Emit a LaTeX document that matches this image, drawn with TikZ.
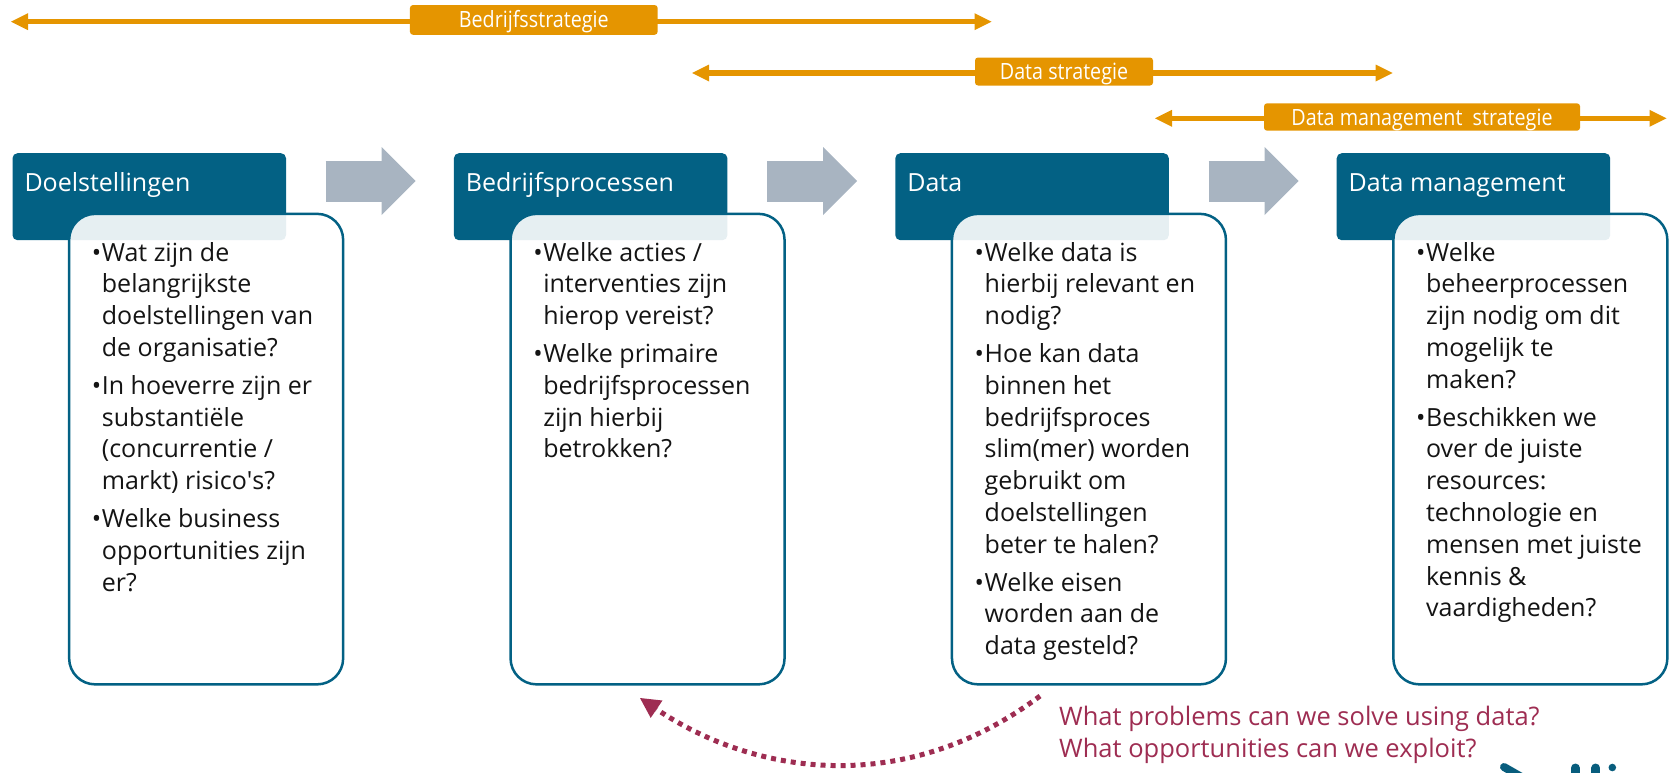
\documentclass[tikz,border=0pt]{standalone}
\usepackage{fontspec}
\setmainfont{Open Sans}
\newfontfamily\lblfont[FakeStretch=0.88]{Open Sans}
\usetikzlibrary{arrows.meta}
\definecolor{hdteal}{RGB}{3,97,132}
\definecolor{greyarr}{RGB}{168,180,193}
\definecolor{orng}{RGB}{229,149,0}
\definecolor{mrn}{RGB}{158,45,82}
\definecolor{bodyblack}{RGB}{20,20,20}
\definecolor{logoteal}{RGB}{8,93,125}
\newcommand{\bul}{\makebox[10pt][l]{\textbullet}}
\newcommand{\ind}{\hspace*{10pt}}
\newcommand{\sq}{{\addfontfeatures{Ligatures=TeXOff}'}}
\begin{document}
\begin{tikzpicture}[x=1pt,y=-1pt,
  header/.style={fill=hdteal,rounded corners=5pt,minimum width=273.5pt,minimum height=87pt,inner sep=0pt,anchor=north west},
  bodybox/.style={draw=hdteal,line width=2.5pt,fill=white,fill opacity=0.9,rounded corners=26pt,minimum width=274pt,minimum height=470.5pt,inner sep=0pt,anchor=north west},
  htext/.style={text=white,font=\fontsize{25}{30}\selectfont,anchor=base west,inner sep=0pt},
  btext/.style={text=bodyblack,font=\fontsize{25}{31.8}\selectfont,anchor=base west,inner sep=0pt},
  flow/.style={greyarr,line width=41pt,-{Triangle[length=34pt,width=68pt,line width=0pt]}},
  span/.style={orng,line width=5.5pt,{Triangle[length=17pt,width=17pt,line width=0pt]}-{Triangle[length=17pt,width=17pt,line width=0pt]}},
  spanlabel/.style={fill=orng,rounded corners=3pt,text=white,font=\lblfont\fontsize{22.4}{26}\selectfont,inner sep=0pt,text height=16pt,text depth=0pt},
  loopback/.style={mrn,line width=5pt,dash pattern=on 5pt off 5pt,-{Triangle[length=20pt,width=21pt,line width=0pt]}},
  note/.style={text=mrn,font=\fontsize{25.5}{31.7}\selectfont,anchor=base west,inner sep=0pt}
]
\useasboundingbox (0,0) rectangle (1677,772);

% ---- top spans ----
\coordinate (s1a) at (11,21.7);   \coordinate (s1b) at (991.5,21.7);
\coordinate (s2a) at (692,73);    \coordinate (s2b) at (1392.5,73);
\coordinate (s3a) at (1155,118.3); \coordinate (s3b) at (1666.5,118.3);
\draw[span] (s1a) -- (s1b);
\draw[span] (s2a) -- (s2b);
\draw[span] (s3a) -- (s3b);
\node[spanlabel,minimum width=247.7pt,minimum height=29.7pt] (lb1) at (533.8,19.9) {Bedrijfsstrategie};
\node[spanlabel,minimum width=178pt,minimum height=28pt] (lb2) at (1064,71.5) {Data strategie};
\node[spanlabel,minimum width=316pt,minimum height=27.4pt] (lb3) at (1422,117) {Data management~ strategie};

% ---- headers ----
\node[header] (h1) at (12.3,153) {};
\node[header] (h2) at (453.7,153) {};
\node[header] (h3) at (895.1,153) {};
\node[header] (h4) at (1336.5,153) {};
\node[htext] (h1t) at (24.3,191.8) {Doelstellingen};
\node[htext] (h2t) at (465.7,191.8) {Bedrijfsprocessen};
\node[htext] (h3t) at (907.1,191.8) {Data};
\node[htext] (h4t) at (1348.5,191.8) {Data management};

% ---- grey flow arrows ----
\coordinate (f1a) at (325.7,181); \coordinate (f1b) at (415.7,181);
\coordinate (f2a) at (767.1,181); \coordinate (f2b) at (857.1,181);
\coordinate (f3a) at (1208.5,181); \coordinate (f3b) at (1298.5,181);
\draw[flow] (f1a) -- (f1b);
\draw[flow] (f2a) -- (f2b);
\draw[flow] (f3a) -- (f3b);

% ---- body boxes ----
\node[bodybox] (b1) at (67.9,212.6) {};
\node[bodybox] (b2) at (509.3,212.6) {};
\node[bodybox] (b3) at (950.7,212.6) {};
\node[bodybox] (b4) at (1392.1,212.6) {};

\node[btext] (t1) at (91.7,261) {\begin{tabular}[t]{@{}l@{}}
\bul Wat zijn de\\ \ind belangrijkste\\ \ind doelstellingen van\\ \ind de organisatie?\\[6pt]
\bul In hoeverre zijn er\\ \ind substantiële\\ \ind (concurrentie /\\ \ind markt) risico\sq s?\\[6pt]
\bul Welke business\\ \ind opportunities zijn\\ \ind er?
\end{tabular}};
\node[btext] (t2) at (533.1,261) {\begin{tabular}[t]{@{}l@{}}
\bul Welke acties /\\ \ind interventies zijn\\ \ind hierop vereist?\\[6pt]
\bul Welke primaire\\ \ind bedrijfsprocessen\\ \ind zijn hierbij\\ \ind betrokken?
\end{tabular}};
\node[btext] (t3) at (974.5,261) {\begin{tabular}[t]{@{}l@{}}
\bul Welke data is\\ \ind hierbij relevant en\\ \ind nodig?\\[6pt]
\bul Hoe kan data\\ \ind binnen het\\ \ind bedrijfsproces\\ \ind slim(mer) worden\\ \ind gebruikt om\\ \ind doelstellingen\\ \ind beter te halen?\\[6pt]
\bul Welke eisen\\ \ind worden aan de\\ \ind data gesteld?
\end{tabular}};
\node[btext] (t4) at (1415.9,261) {\begin{tabular}[t]{@{}l@{}}
\bul Welke\\ \ind beheerprocessen\\ \ind zijn nodig om dit\\ \ind mogelijk te\\ \ind maken?\\[6pt]
\bul Beschikken we\\ \ind over de juiste\\ \ind resources:\\ \ind technologie en\\ \ind mensen met juiste\\ \ind kennis \&\\ \ind vaardigheden?
\end{tabular}};

% ---- feedback loop ----
\coordinate (ls) at (1040,696);
\coordinate (le) at (640,698);
\draw[loopback] (ls) .. controls (904,798) and (754,775) .. (le);
\node[note] (q) at (1059,725.5) {\begin{tabular}[t]{@{}l@{}}What problems can we solve using data?\\What opportunities can we exploit?\end{tabular}};

% ---- cropped logo fragment ----
\begin{scope}
\clip (0,0) rectangle (1677,772);
\draw[logoteal,line width=8pt,line cap=round] (1504,767) -- (1532,783);
\draw[logoteal,line width=9pt,line cap=round] (1575.3,768) -- (1575.3,790);
\draw[logoteal,line width=9pt,line cap=round] (1595.8,768) -- (1595.8,790);
\fill[logoteal] (1612.3,767.5) circle (3.8pt);
\end{scope}
\end{tikzpicture}
\end{document}
